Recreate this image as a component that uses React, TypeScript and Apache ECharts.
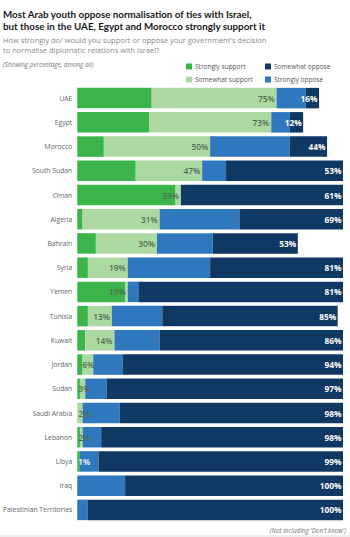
import React, { useEffect, useRef } from "react";
import * as echarts from "echarts";

const categories = [
  "UAE", "Egypt", "Morocco", "South Sudan", "Oman", "Algeria", "Bahrain", "Syria", "Yemen",
  "Tunisia", "Kuwait", "Jordan", "Sudan", "Saudi Arabia", "Lebanon", "Libya", "Iraq",
  "Palestinian Territories",
];
const stronglySupport = [28, 27, 10, 22, 37, 2, 7, 4, 18, 4, 3, 2, 1, 0, 1, 1, 0, 0];
const somewhatSupport = [47, 46, 40, 25, 2, 29, 23, 15, 1, 9, 11, 4, 2, 2, 1, 0, 0, 0];
const stronglyOppose = [11, 7, 30, 9, 0, 30, 21, 31, 4, 19, 17, 11, 8, 14, 7, 7, 18, 4];
const somewhatOppose = [5, 5, 14, 44, 61, 39, 32, 50, 77, 66, 69, 83, 89, 84, 91, 92, 82, 96];
const supportTotals = [75, 73, 50, 47, 39, 31, 30, 19, 19, 13, 14, 6, 3, 2, 2, 1, 0, 0];
const opposeTotals = [16, 12, 44, 53, 61, 69, 53, 81, 81, 85, 86, 94, 97, 98, 98, 99, 100, 100];

const C_SS = "#3bb54a";
const C_WS = "#acd9a1";
const C_SO = "#2f78bd";
const C_WO = "#0f3862";
const FONT = "'Open Sans', sans-serif";

export default function App() {
  const ref = useRef<HTMLDivElement>(null);
  useEffect(() => {
    document.body.style.margin = "0";
    const chart = echarts.init(ref.current!, null, { renderer: "svg" });
    const barW = 20.5;
    const supLabel = (i: number) => ({
      show: true,
      fontSize: 8.3,
      fontWeight: 600,
      fontFamily: FONT,
      color: somewhatSupport[i] >= 1 ? "#4f6b50" : "#ffffff",
      formatter: supportTotals[i] + "%",
    });
    const ssData = stronglySupport.map((v, i) => {
      const s = supportTotals[i];
      if (s > 0 && s < 7) {
        return { value: v, label: { ...supLabel(i), position: "insideLeft", distance: 1, offset: [s > 4 ? 4 : 0, 0] } };
      }
      return { value: v };
    });
    const wsData = somewhatSupport.map((v, i) => {
      const s = supportTotals[i];
      if (s >= 7) {
        return { value: v, label: { ...supLabel(i), position: "insideRight", distance: 2 } };
      }
      return { value: v };
    });
    const option: any = {
      animation: false,
      backgroundColor: "#ffffff",
      textStyle: { fontFamily: FONT },
      grid: { left: 75, width: 268, top: 86, height: 436 },
      xAxis: { type: "value", min: 0, max: 100, show: false },
      yAxis: {
        type: "category",
        data: categories,
        inverse: true,
        axisLine: { show: false },
        axisTick: { show: false },
        axisLabel: { color: "#666", fontSize: 6.8, margin: 5, fontFamily: FONT },
      },
      legend: [
        {
          data: ["Strongly support", "Somewhat support"],
          orient: "vertical", left: 181, top: 58, itemWidth: 6, itemHeight: 6, itemGap: 6,
          icon: "rect", textStyle: { fontSize: 6.5, color: "#555", fontFamily: FONT, padding: [0, 0, 0, -2] },
        },
        {
          data: ["Somewhat oppose", "Strongly oppose"],
          orient: "vertical", left: 260, top: 58, itemWidth: 6, itemHeight: 6, itemGap: 6,
          icon: "rect", textStyle: { fontSize: 6.5, color: "#555", fontFamily: FONT, padding: [0, 0, 0, -2] },
        },
      ],
      series: [
        { name: "Strongly support", type: "bar", stack: "a", data: ssData, barWidth: barW, itemStyle: { color: C_SS } },
        { name: "Somewhat support", type: "bar", stack: "a", data: wsData, barWidth: barW, itemStyle: { color: C_WS } },
        { name: "Strongly oppose", type: "bar", stack: "a", data: stronglyOppose, barWidth: barW, itemStyle: { color: C_SO } },
        {
          name: "Somewhat oppose", type: "bar", stack: "a", data: somewhatOppose, barWidth: barW,
          itemStyle: { color: C_WO },
          label: {
            show: true, position: "insideRight", distance: 1.5,
            fontSize: 8.3, fontWeight: 700, fontFamily: FONT, color: "#ffffff",
            formatter: (p: any) => opposeTotals[p.dataIndex] + "%",
          },
        },
      ],
      graphic: [
        {
          type: "text", left: 3, top: 8,
          style: {
            text: "Most Arab youth oppose normalisation of ties with Israel,\nbut those in the UAE, Egypt and Morocco strongly support it",
            fontSize: 9.8, fontWeight: 700, fill: "#1a1a1a", lineHeight: 11.8, fontFamily: "Lato, sans-serif",
          },
        },
        {
          type: "text", left: 3, top: 35,
          style: {
            text: "How strongly do/ would you support or oppose your government's decision\nto normalise diplomatic relations with Israel?",
            fontSize: 7.5, fill: "#8a8a8a", lineHeight: 10, fontFamily: FONT,
          },
        },
        {
          type: "text", left: 3, top: 61,
          style: {
            text: "(Showing percentage, among all)",
            fontSize: 6.3, fontStyle: "italic", fill: "#777", fontFamily: FONT,
          },
        },
        {
          type: "text", right: 4, top: 527,
          style: {
            text: "(Not including 'Don't know')",
            fontSize: 6.3, fontStyle: "italic", fill: "#777", fontFamily: FONT,
          },
        },
        {
          type: "line", shape: { x1: 0, y1: 536, x2: 350, y2: 536 },
          style: { stroke: "#dddddd", lineWidth: 1 },
        },
      ],
    };
    chart.setOption(option);
    return () => chart.dispose();
  }, []);
  return (
    <div ref={ref} style={{ position: "absolute", left: 0, top: 0, width: 350, height: 537 }} />
  );
}
